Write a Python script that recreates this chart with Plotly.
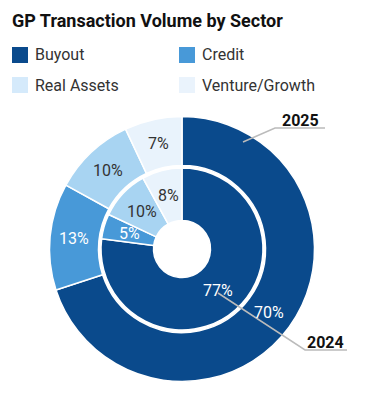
import math
import plotly.graph_objects as go

# ---- data ----
sectors = ["Buyout", "Credit", "Real Assets", "Venture/Growth"]
share_2025 = [70, 13, 10, 7]
share_2024 = [77, 5, 10, 8]
years = ["2025", "2024"]

slice_colors = ["#0a4a8c", "#4899d8", "#a8d4f2", "#e9f3fc"]
legend_colors = ["#0a4a8c", "#4899d8", "#d5eafb", "#eaf3fc"]
text_colors = ["#ffffff", "#ffffff", "#333333", "#333333"]

W, H = 378, 393
CX, CY = 182, 249          # donut centre (px from top-left)
R_OUT, R_MID, R_IN, R_HOLE = 132.5, 83.5, 81, 28.5
LABEL_SIZE = 16


def px(x):
    return x / W


def py(y):
    return 1 - y / H


def domain(r):
    return dict(x=[px(CX - r), px(CX + r)], y=[py(CY + r), py(CY - r)])


def ring_labels(values, r0, r1):
    """Percent labels placed at each slice's mid-angle, halfway across the ring."""
    total = sum(values)
    out = []
    acc = 0
    rm = (r0 + r1) / 2
    for v, c in zip(values, text_colors):
        ang = 2 * math.pi * (acc + v / 2) / total  # clockwise from 12 o'clock
        acc += v
        x = CX + rm * math.sin(ang)
        y = CY - rm * math.cos(ang)
        out.append(dict(text=f"{v}%", xref="paper", yref="paper",
                        x=px(x), y=py(y), xanchor="center", yanchor="middle",
                        showarrow=False,
                        font=dict(family="Roboto", size=LABEL_SIZE, color=c)))
    return out


fig = go.Figure()

for vals, name, r, hole in [(share_2025, years[0], R_OUT, R_MID / R_OUT),
                            (share_2024, years[1], R_IN, R_HOLE / R_IN)]:
    fig.add_trace(go.Pie(
        labels=sectors, values=vals, name=name,
        domain=domain(r), hole=hole,
        sort=False, direction="clockwise", rotation=0,
        marker=dict(colors=slice_colors, line=dict(color="white", width=1.5)),
        textinfo="none",
        showlegend=False, hoverinfo="label+value",
    ))

shapes = []
annotations = []
annotations += ring_labels(share_2025, R_MID, R_OUT)
annotations += ring_labels(share_2024, R_HOLE, R_IN)

# legend: two columns of swatch + label
legend_pos = [(12, 55), (179, 55), (12, 85), (179, 85)]
for name, col, (lx, ly) in zip(sectors, legend_colors, legend_pos):
    shapes.append(dict(type="rect", xref="paper", yref="paper",
                       x0=px(lx), x1=px(lx + 16), y0=py(ly + 8), y1=py(ly - 8),
                       fillcolor=col, line=dict(width=0)))
    annotations.append(dict(text=name, xref="paper", yref="paper",
                            x=px(lx + 21), y=py(ly), xanchor="left", yanchor="middle",
                            showarrow=False,
                            font=dict(family="Roboto", size=16, color="#333333")))

# year call-outs with leader lines
callouts = [
    (years[0], (300, 120), [(243, 142), (275, 128), (325, 128)]),
    (years[1], (325, 342), [(218, 293), (305, 350), (347, 350)]),
]
for label, (tx, ty), pts in callouts:
    path = "M " + " L ".join(f"{px(x)},{py(y)}" for x, y in pts)
    shapes.append(dict(type="path", xref="paper", yref="paper", path=path,
                       line=dict(color="#bbbbbb", width=1.5), layer="above"))
    annotations.append(dict(text=f"<b>{label}</b>", xref="paper", yref="paper",
                            x=px(tx), y=py(ty), xanchor="center", yanchor="middle",
                            showarrow=False,
                            font=dict(family="Roboto", size=16, color="#111111")))

fig.update_layout(
    width=W, height=H,
    margin=dict(l=0, r=0, t=0, b=0),
    paper_bgcolor="white", plot_bgcolor="white",
    title=dict(text="<b>GP Transaction Volume by Sector</b>",
               x=px(12), xanchor="left", y=py(21), yanchor="middle",
               font=dict(family="Roboto", size=18, color="#111111")),
    shapes=shapes, annotations=annotations,
)

fig.write_html("out.html")
